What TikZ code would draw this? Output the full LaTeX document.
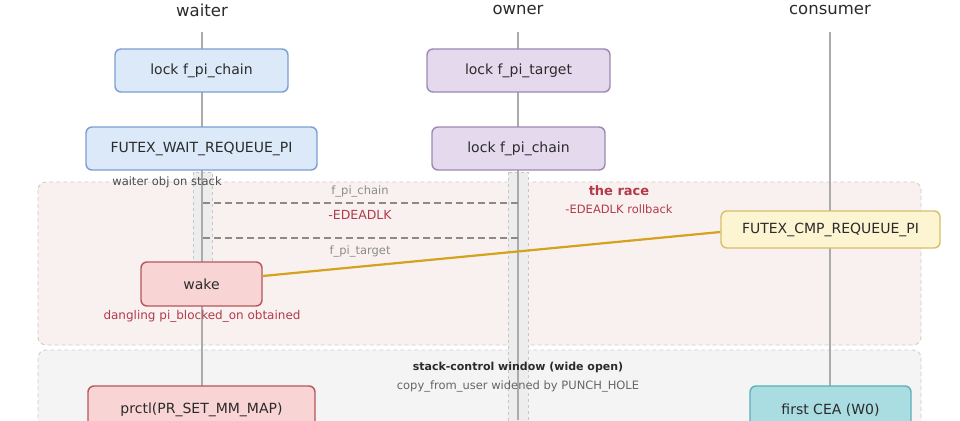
\documentclass[tikz,border=0pt]{standalone}
\usepackage{fontspec}
\setmainfont{DejaVu Sans}
\definecolor{txt}{HTML}{2B2B2B}
\definecolor{lifec}{HTML}{ABABAB}
\definecolor{bluef}{HTML}{DCE9F9}
\definecolor{blued}{HTML}{7B9FD0}
\definecolor{purf}{HTML}{E5DAED}
\definecolor{purd}{HTML}{9E87B5}
\definecolor{pinkf}{HTML}{F8D4D4}
\definecolor{pinkd}{HTML}{B5575C}
\definecolor{yelf}{HTML}{FDF4D2}
\definecolor{yeld}{HTML}{D6BF6B}
\definecolor{tealf}{HTML}{A9DDE2}
\definecolor{teald}{HTML}{5DB0B8}
\definecolor{racef}{HTML}{F9F1F0}
\definecolor{raced}{HTML}{D5C8C8}
\definecolor{grayf}{HTML}{F4F4F4}
\definecolor{grayd}{HTML}{CFCFCF}
\definecolor{redt}{HTML}{B33A4A}
\definecolor{gold}{HTML}{D4A21C}
\definecolor{msgc}{HTML}{8A8A8A}
\definecolor{mutedt}{HTML}{8C8C8C}
\tikzset{
  boxbase/.style={rectangle, rounded corners=6pt, line width=1.4pt, text=txt,
    font=\fontsize{14}{16}\selectfont, inner sep=0pt},
  bluebox/.style={boxbase, fill=bluef, draw=blued},
  purbox/.style={boxbase, fill=purf, draw=purd},
  pinkbox/.style={boxbase, fill=pinkf, draw=pinkd},
  yelbox/.style={boxbase, fill=yelf, draw=yeld},
  tealbox/.style={boxbase, fill=tealf, draw=teald},
  title/.style={font=\fontsize{16.5}{18}\selectfont, text=txt},
  lifeline/.style={draw=lifec, line width=1.6pt},
  actbar/.style={fill=black!7, draw=black!22, dash pattern=on 3pt off 3pt, line width=0.6pt},
  region/.style={rounded corners=8pt, dash pattern=on 4pt off 3pt, line width=0.9pt},
  msgline/.style={draw=msgc, line width=1.6pt, dash pattern=on 7pt off 4pt},
  small/.style={font=\fontsize{11.5}{13}\selectfont},
}
\begin{document}
\begin{tikzpicture}[x=1pt,y=-1pt]
\clip (0,0) rectangle (960,420);
\fill[white] (0,0) rectangle (960,420);

% regions
\path[region, fill=racef, draw=raced] (38,182) rectangle (921,345);
\path[region, fill=grayf, draw=grayd] (38,350) rectangle (921,440);

% lifelines
\coordinate (wtop) at (202,32);
\coordinate (wbot) at (202,420);
\coordinate (otop) at (518,32);
\coordinate (obot) at (518,420);
\coordinate (ctop) at (830,32);
\coordinate (cbot) at (830,390);
\draw[lifeline] (wtop) -- (wbot);
\draw[lifeline] (otop) -- (obot);
\draw[lifeline] (ctop) -- (cbot);

% activation bars
\path[actbar] (193,172) rectangle (212,264);
\path[actbar] (508,172) rectangle (528,430);
\draw[lifeline] (202,172) -- (202,264);
\draw[lifeline] (518,172) -- (518,420);

% titles
\node[title] (twaiter) at (202,10) {waiter};
\node[title] (towner) at (518,10) {owner};
\node[title] (tconsumer) at (830,10) {consumer};

% boxes
\node[bluebox, minimum width=173pt, minimum height=43pt] (wlock) at (201.5,70.5) {lock f\_pi\_chain};
\node[bluebox, minimum width=231pt, minimum height=43pt] (wwait) at (201.5,148.5) {FUTEX\_WAIT\_REQUEUE\_PI};
\node[purbox, minimum width=183pt, minimum height=43pt] (otarget) at (518.5,70.5) {lock f\_pi\_target};
\node[purbox, minimum width=173pt, minimum height=43pt] (ochain) at (518.5,148.5) {lock f\_pi\_chain};

% race labels
\node[small, text=txt!85] (wobj) at (167,182) {waiter obj on stack};
\node[font=\bfseries\fontsize{13}{15}\selectfont, text=redt] (race) at (619,191) {the race};
\node[small, text=redt] (rollback) at (619,209) {-EDEADLK rollback};

% messages
\coordinate (m1a) at (203,203);
\coordinate (m1b) at (518,203);
\coordinate (m2a) at (203,238);
\coordinate (m2b) at (518,238);
\draw[msgline] (m1a) -- (m1b);
\draw[msgline] (m2a) -- (m2b);
\node[small, text=mutedt] (lchain) at (360,191) {f\_pi\_chain};
\node[font=\fontsize{12.5}{14}\selectfont, text=redt] (ledead) at (360,215) {-EDEADLK};
\node[small, text=mutedt] (ltarget) at (360,251) {f\_pi\_target};

% wake and cmp
\node[pinkbox, minimum width=121pt, minimum height=44pt] (wake) at (201.5,284) {wake};
\node[yelbox, minimum width=219pt, minimum height=37pt] (cmp) at (830.5,229.5) {FUTEX\_CMP\_REQUEUE\_PI};
\draw[gold, line width=2.2pt] (wake.east |- 0,276) -- (cmp.west |- 0,232);
\node[font=\fontsize{12}{14}\selectfont, text=redt] (dangling) at (202,316) {dangling pi\_blocked\_on obtained};

% stack-control window
\node[font=\bfseries\fontsize{11}{13}\selectfont, text=txt] (scw) at (518,367) {stack-control window (wide open)};
\node[small, text=black!60] (cfu) at (518,386) {copy\_from\_user widened by PUNCH\_HOLE};
\node[pinkbox, minimum width=227pt, minimum height=48pt] (prctl) at (201.5,410) {prctl(PR\_SET\_MM\_MAP)};
\node[tealbox, minimum width=161pt, minimum height=48pt] (cea) at (830.5,410) {first CEA (W0)};
\end{tikzpicture}
\end{document}
